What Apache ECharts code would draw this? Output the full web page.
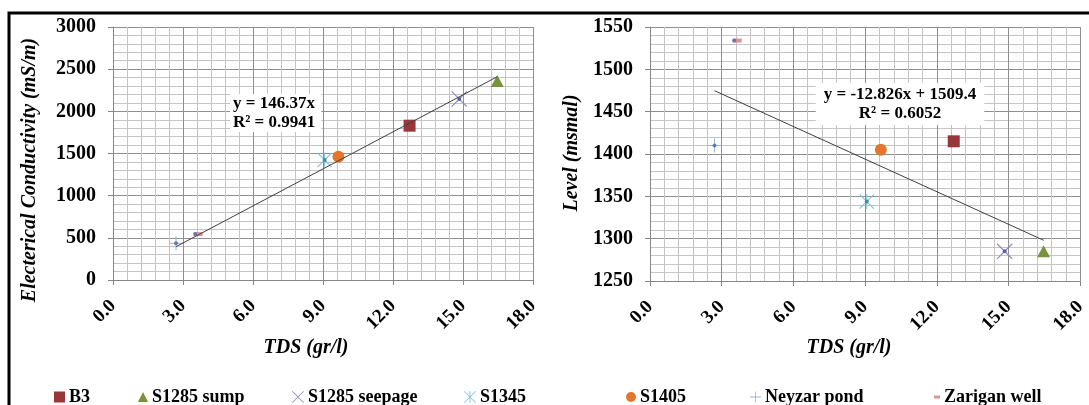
<!DOCTYPE html>
<html>
<head>
<meta charset="utf-8">
<title>TDS - EC / Level</title>
<script src="https://cdn.jsdelivr.net/npm/echarts@6/dist/echarts.min.js"></script>
<style>
    html, body { margin: 0; padding: 0; background: #fff; }
    #chart { width: 1089px; height: 405px; }
</style>
</head>
<body>
<div id="chart"></div>
<script>
// 样本名称
const sampleNames = ['B3', 'S1285 sump', 'S1285 seepage', 'S1345', 'S1405', 'Neyzar pond', 'Zarigan well'];
// TDS (gr/l)
const tdsValues = [12.71, 16.47, 14.84, 9.07, 9.66, 2.70, 3.65];
// 电导率 EC (mS/m)
const ecValues = [1830, 2360, 2146, 1423, 1462, 435, 545];
// 水位 Level (msmal)
const levelValues = [1415, 1285, 1285, 1344, 1405, 1410, 1534];

// 坐标轴刻度
const tdsTicks = [0, 3, 6, 9, 12, 15, 18];
const ecTicks = [0, 500, 1000, 1500, 2000, 2500, 3000];
const levelTicks = [1250, 1300, 1350, 1400, 1450, 1500, 1550];

// 趋势线 [斜率, 截距] 和公式文字
const ecTrendCoef = [146.37, 0];
const ecTrendText = ['y = 146.37x', 'R² = 0.9941'];
const levelTrendCoef = [-12.826, 1509.4];
const levelTrendText = ['y = -12.826x + 1509.4', 'R² = 0.6052'];

const FONT = '"Liberation Serif", "Times New Roman", serif';

// 自定义标记形状
const SYM_X = 'path://M0,1 L1,0 L20,19 L19,20 Z M19,0 L20,1 L1,20 L0,19 Z';
const SYM_PLUS = 'path://M0,9.3 L20,9.3 L20,10.7 L0,10.7 Z M9.3,0 L10.7,0 L10.7,20 L9.3,20 Z';
const SYM_STAR = SYM_X + ' M9.3,0 L10.7,0 L10.7,20 L9.3,20 Z';

// 每个样本的标记样式
const markerStyles = {
    'B3': { symbol: 'rect', size: 12, color: '#98363a', legendSize: [11, 11], left: 49 },
    'S1285 sump': { symbol: 'triangle', size: [13, 12], color: '#77933c', legendSize: [10, 10], left: 133 },
    'S1285 seepage': { symbol: SYM_X, size: 16, color: '#9185bd', legendSize: [12, 12], left: 287 },
    'S1345': { symbol: SYM_STAR, size: 15, color: '#7cc3d8', legendSize: [12, 12], left: 459 },
    'S1405': { symbol: 'circle', size: 12, color: '#e2762c', legendSize: [10, 10], left: 621 },
    'Neyzar pond': { symbol: SYM_PLUS, size: 14, color: '#98b2db', legendSize: [11, 11], left: 745 },
    'Zarigan well': { symbol: 'rect', size: [9, 4], color: '#d99694', legendSize: [6, 3], left: 929 }
};

// 标记中心的小点
const centreDots = {
    'S1285 seepage': { color: '#3f4f9e', offset: [0, 0] },
    'S1345': { color: '#2f7f96', offset: [0, 0] },
    'Neyzar pond': { color: '#4a67ad', offset: [0, 0] },
    'Zarigan well': { color: '#4f6aae', offset: [-3, 0] }
};


function xAxisOf(gridIndex) {
    return {
        gridIndex: gridIndex,
        type: 'value',
        min: tdsTicks[0],
        max: tdsTicks[tdsTicks.length - 1],
        interval: tdsTicks[1] - tdsTicks[0],
        axisLine: { show: true, lineStyle: { color: '#868686' } },
        axisTick: { show: true, length: 5, lineStyle: { color: '#868686' } },
        axisLabel: {
            rotate: 45,
            margin: 23,
            color: '#000',
            fontFamily: FONT,
            fontWeight: 'bold',
            fontSize: 19,
            padding: [0, 0, 0, 0],
            formatter: v => v.toFixed(1)
        },
        splitLine: { show: true, lineStyle: { color: '#8f8f8f' } },
        minorTick: { show: false, splitNumber: 5 },
        minorSplitLine: { show: true, lineStyle: { color: '#c4c4c4' } }
    };
}

function yAxisOf(gridIndex, ticks) {
    return {
        gridIndex: gridIndex,
        type: 'value',
        min: ticks[0],
        max: ticks[ticks.length - 1],
        interval: ticks[1] - ticks[0],
        axisLine: { show: true, lineStyle: { color: '#868686' } },
        axisTick: { show: true, length: 5, lineStyle: { color: '#868686' } },
        axisLabel: {
            margin: 17,
            color: '#000',
            fontFamily: FONT,
            fontWeight: 'bold',
            fontSize: 20,
            formatter: v => String(v)
        },
        splitLine: { show: true, lineStyle: { color: '#8f8f8f' } },
        minorTick: { show: false, splitNumber: 5 },
        minorSplitLine: { show: true, lineStyle: { color: '#c4c4c4' } }
    };
}

// 趋势线，从最小 TDS 到最大 TDS
function trendSeries(gridIndex, coef) {
    let xMin = Math.min(...tdsValues);
    let xMax = Math.max(...tdsValues);
    return {
        type: 'line',
        xAxisIndex: gridIndex,
        yAxisIndex: gridIndex,
        data: [[xMin, coef[0] * xMin + coef[1]], [xMax, coef[0] * xMax + coef[1]]],
        showSymbol: false,
        silent: true,
        lineStyle: { color: '#404040', width: 1 }
    };
}

function pointSeries(gridIndex, values) {
    let list = [];
    sampleNames.forEach((name, i) => {
        let st = markerStyles[name];
        list.push({
            name: name,
            type: 'scatter',
            xAxisIndex: gridIndex,
            yAxisIndex: gridIndex,
            data: [[tdsValues[i], values[i]]],
            symbol: st.symbol,
            symbolSize: st.size,
            itemStyle: { color: st.color, opacity: 1 }
        });
    });
    // 中心小点
    let dots = [];
    sampleNames.forEach((name, i) => {
        let d = centreDots[name];
        if (!d) return;
        dots.push({
            value: [tdsValues[i], values[i]],
            symbolOffset: d.offset,
            itemStyle: { color: d.color }
        });
    });
    list.push({
        name: 'dots',
        type: 'scatter',
        xAxisIndex: gridIndex,
        yAxisIndex: gridIndex,
        data: dots,
        symbol: 'circle',
        symbolSize: 4,
        silent: true
    });
    return list;
}

function textOf(x, y, text, rotation) {
    return {
        type: 'text',
        x: x,
        y: y,
        rotation: rotation || 0,
        z: 10,
        style: {
            text: text,
            fill: '#000',
            font: 'italic bold 20px ' + FONT,
            align: 'center',
            verticalAlign: 'middle'
        }
    };
}

function drawChart() {
    let chart = echarts.init(document.getElementById('chart'));

    let legends = sampleNames.map(name => {
        let st = markerStyles[name];
        return {
            left: st.left,
            top: 383,
            itemWidth: st.legendSize[0],
            itemHeight: st.legendSize[1],
            itemGap: 0,
            selectedMode: false,
            data: [{ name: name, icon: st.symbol }],
            textStyle: { color: '#000', fontFamily: FONT, fontWeight: 'bold', fontSize: 18, padding: [0, 0, 0, -1] }
        };
    });

    let option = {
        backgroundColor: '#fff',
        animation: false,
        grid: [
            { left: 113, top: 27, width: 420, height: 253 },
            { left: 650, top: 27, width: 440, height: 254 }
        ],
        xAxis: [xAxisOf(0), xAxisOf(1)],
        yAxis: [yAxisOf(0, ecTicks), yAxisOf(1, levelTicks)],
        legend: legends,
        series: [
            trendSeries(0, ecTrendCoef),
            trendSeries(1, levelTrendCoef)
        ].concat(pointSeries(0, ecValues), pointSeries(1, levelValues)),
        graphic: [
            // 外框
            {
                type: 'rect',
                shape: { x: 9, y: 13, width: 1300, height: 600 },
                style: { fill: 'none', stroke: '#000', lineWidth: 3 },
                silent: true
            },
            textOf(30, 170, 'Electerical Conductivity (mS/m)', Math.PI / 2),
            textOf(572, 153, 'Level (msmal)', Math.PI / 2),
            textOf(306, 348, 'TDS (gr/l)'),
            textOf(849, 348, 'TDS (gr/l)'),
            {
                type: 'text',
                x: 230,
                y: 94,
                z: 10,
                style: {
                    text: ecTrendText.join('\n'),
                    fill: '#000',
                    font: 'bold 17px ' + FONT,
                    lineHeight: 19,
                    align: 'left',
                    verticalAlign: 'top',
                    backgroundColor: '#fff',
                    padding: [0, 6, 0, 3]
                }
            },
            {
                type: 'text',
                x: 900,
                y: 83,
                z: 10,
                style: {
                    text: levelTrendText.join('\n'),
                    fill: '#000',
                    font: 'bold 17px ' + FONT,
                    lineHeight: 19,
                    align: 'center',
                    verticalAlign: 'top',
                    backgroundColor: '#fff',
                    padding: [2, 8, 2, 8]
                }
            }
        ]
    };

    chart.setOption(option);
}

drawChart();
</script>
</body>
</html>
